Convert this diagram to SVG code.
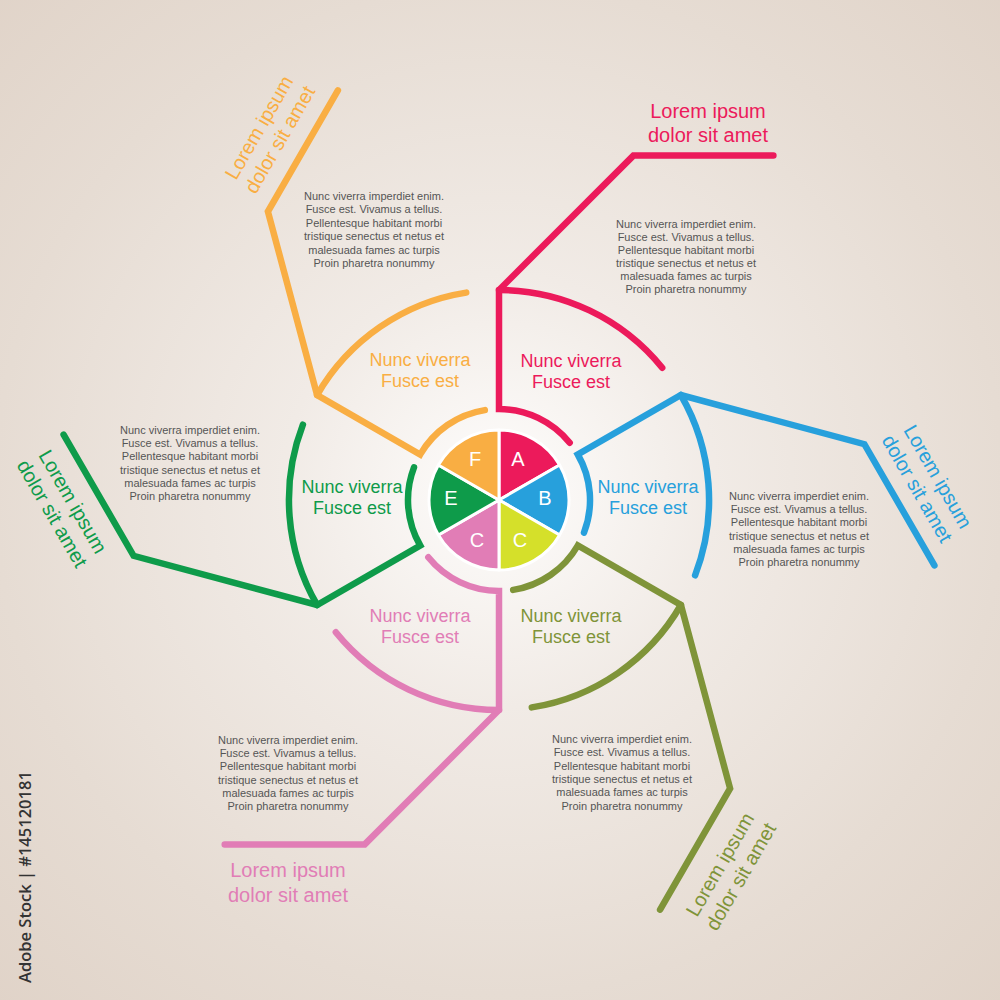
<svg xmlns="http://www.w3.org/2000/svg" width="1000" height="1000" viewBox="0 0 1000 1000">
<defs>
<radialGradient id="bg" gradientUnits="userSpaceOnUse" cx="499" cy="490" r="720">
<stop offset="0" stop-color="#fefdfc"/>
<stop offset="0.3" stop-color="#f1ebe6"/>
<stop offset="0.7" stop-color="#e6dcd3"/>
<stop offset="1" stop-color="#e0d3c8"/>
</radialGradient>
</defs>
<style>
.ln{fill:none;stroke-width:6.5;stroke-linecap:round;stroke-linejoin:miter}
.slice{stroke:#ffffff;stroke-width:3;stroke-linejoin:round}
.let{font-family:"Liberation Sans",Arial,sans-serif;font-size:20px;fill:#ffffff;text-anchor:middle}
.big{font-family:"Liberation Sans",Arial,sans-serif;font-size:20px;text-anchor:middle}
.mid{font-family:"Liberation Sans",Arial,sans-serif;font-size:18px;text-anchor:middle}
.par{font-family:"Liberation Sans",Arial,sans-serif;font-size:11px;fill:#555555;text-anchor:middle}
.red{stroke:#ec1a5b}.tred{fill:#ec1a5b}
.blue{stroke:#27a0dc}.tblue{fill:#27a0dc}
.olive{stroke:#7f9439}.tolive{fill:#7f9439}
.pink{stroke:#e17db6}.tpink{fill:#e17db6}
.green{stroke:#0e9b4a}.tgreen{fill:#0e9b4a}
.orange{stroke:#f9ae43}.torange{fill:#f9ae43}
</style>
<rect x="0" y="0" width="1000" height="1000" fill="url(#bg)"/>

<g id="connectors">
<g id="conn-a">
<path class="ln red" d="M569.7 442.7 A91 91 0 0 0 499 409 L499 290 L633.4 155.6 L773.4 155.6"/>
<path class="ln red" d="M499 290 A210 210 0 0 1 662.2 367.8"/>
</g>
<g id="conn-b">
<path class="ln blue" d="M584 532.6 A91 91 0 0 0 577.8 454.5 L680.9 395 L864.4 444.2 L934.4 565.4"/>
<path class="ln blue" d="M680.9 395 A210 210 0 0 1 695.1 575.3"/>
</g>
<g id="conn-c1">
<path class="ln olive" d="M513.2 589.9 A91 91 0 0 0 577.8 545.5 L680.9 605 L730.1 788.5 L660.1 909.7"/>
<path class="ln olive" d="M680.9 605 A210 210 0 0 1 531.8 707.4"/>
</g>
<g id="conn-c2">
<path class="ln pink" d="M428.3 557.3 A91 91 0 0 0 499 591 L499 710 L364.7 844.4 L224.7 844.4"/>
<path class="ln pink" d="M499 710 A210 210 0 0 1 335.8 632.2"/>
</g>
<g id="conn-e">
<path class="ln green" d="M414 467.4 A91 91 0 0 0 420.2 545.5 L317.1 605 L133.6 555.8 L63.6 434.6"/>
<path class="ln green" d="M317.1 605 A210 210 0 0 1 302.9 424.7"/>
</g>
<g id="conn-f">
<path class="ln orange" d="M484.8 410.1 A91 91 0 0 0 420.2 454.5 L317.1 395 L267.9 211.5 L337.9 90.3"/>
<path class="ln orange" d="M317.1 395 A210 210 0 0 1 466.2 292.6"/>
</g>
</g>

<g id="pie">
<g id="slice-a"><path class="slice" fill="#ec1a5b" d="M499 500 L499 430 A70 70 0 0 1 559.62 465 Z"/><text class="let" x="518" y="466">A</text></g>
<g id="slice-b"><path class="slice" fill="#27a0dc" d="M499 500 L559.62 465 A70 70 0 0 1 559.62 535 Z"/><text class="let" x="545" y="505">B</text></g>
<g id="slice-c1"><path class="slice" fill="#d5e02a" d="M499 500 L559.62 535 A70 70 0 0 1 499 570 Z"/><text class="let" x="520" y="547">C</text></g>
<g id="slice-c2"><path class="slice" fill="#e17db6" d="M499 500 L499 570 A70 70 0 0 1 438.38 535 Z"/><text class="let" x="477" y="547">C</text></g>
<g id="slice-e"><path class="slice" fill="#0e9b4a" d="M499 500 L438.38 535 A70 70 0 0 1 438.38 465 Z"/><text class="let" x="451" y="505">E</text></g>
<g id="slice-f"><path class="slice" fill="#f9ae43" d="M499 500 L438.38 465 A70 70 0 0 1 499 430 Z"/><text class="let" x="475" y="466">F</text></g>
</g>

<g id="arm-a">
<text class="big tred" x="708" y="118"><tspan x="708">Lorem ipsum</tspan><tspan x="708" dy="24">dolor sit amet</tspan></text>
<text class="mid tred" x="571" y="367"><tspan x="571">Nunc viverra</tspan><tspan x="571" dy="21">Fusce est</tspan></text>
<text class="par" y="228"><tspan x="686">Nunc viverra imperdiet enim.</tspan><tspan x="686" dy="13">Fusce est. Vivamus a tellus.</tspan><tspan x="686" dy="13">Pellentesque habitant morbi</tspan><tspan x="686" dy="13">tristique senectus et netus et</tspan><tspan x="686" dy="13">malesuada fames ac turpis</tspan><tspan x="686" dy="13">Proin pharetra nonummy</tspan></text>
</g>

<g id="arm-b">
<text class="big tblue" transform="translate(932,480) rotate(60)"><tspan x="0" y="0">Lorem ipsum</tspan><tspan x="0" y="24">dolor sit amet</tspan></text>
<text class="mid tblue" y="493"><tspan x="648">Nunc viverra</tspan><tspan x="648" dy="21">Fusce est</tspan></text>
<text class="par" y="500"><tspan x="799">Nunc viverra imperdiet enim.</tspan><tspan x="799" dy="13.2">Fusce est. Vivamus a tellus.</tspan><tspan x="799" dy="13.2">Pellentesque habitant morbi</tspan><tspan x="799" dy="13.2">tristique senectus et netus et</tspan><tspan x="799" dy="13.2">malesuada fames ac turpis</tspan><tspan x="799" dy="13.2">Proin pharetra nonummy</tspan></text>
</g>

<g id="arm-c1">
<text class="big tolive" transform="translate(726,868) rotate(-60)"><tspan x="0" y="0">Lorem ipsum</tspan><tspan x="0" y="24">dolor sit amet</tspan></text>
<text class="mid tolive" y="622"><tspan x="571">Nunc viverra</tspan><tspan x="571" dy="21">Fusce est</tspan></text>
<text class="par" y="743"><tspan x="622">Nunc viverra imperdiet enim.</tspan><tspan x="622" dy="13.3">Fusce est. Vivamus a tellus.</tspan><tspan x="622" dy="13.3">Pellentesque habitant morbi</tspan><tspan x="622" dy="13.3">tristique senectus et netus et</tspan><tspan x="622" dy="13.3">malesuada fames ac turpis</tspan><tspan x="622" dy="13.3">Proin pharetra nonummy</tspan></text>
</g>

<g id="arm-c2">
<text class="big tpink" y="877"><tspan x="288">Lorem ipsum</tspan><tspan x="288" dy="25">dolor sit amet</tspan></text>
<text class="mid tpink" y="622"><tspan x="420">Nunc viverra</tspan><tspan x="420" dy="21">Fusce est</tspan></text>
<text class="par" y="744"><tspan x="288">Nunc viverra imperdiet enim.</tspan><tspan x="288" dy="13.2">Fusce est. Vivamus a tellus.</tspan><tspan x="288" dy="13.2">Pellentesque habitant morbi</tspan><tspan x="288" dy="13.2">tristique senectus et netus et</tspan><tspan x="288" dy="13.2">malesuada fames ac turpis</tspan><tspan x="288" dy="13.2">Proin pharetra nonummy</tspan></text>
</g>

<g id="arm-e">
<text class="big tgreen" transform="translate(67,505) rotate(60)"><tspan x="0" y="0">Lorem ipsum</tspan><tspan x="0" y="24">dolor sit amet</tspan></text>
<text class="mid tgreen" y="493"><tspan x="352">Nunc viverra</tspan><tspan x="352" dy="21">Fusce est</tspan></text>
<text class="par" y="434"><tspan x="190">Nunc viverra imperdiet enim.</tspan><tspan x="190" dy="13.2">Fusce est. Vivamus a tellus.</tspan><tspan x="190" dy="13.2">Pellentesque habitant morbi</tspan><tspan x="190" dy="13.2">tristique senectus et netus et</tspan><tspan x="190" dy="13.2">malesuada fames ac turpis</tspan><tspan x="190" dy="13.2">Proin pharetra nonummy</tspan></text>
</g>

<g id="arm-f">
<text class="big torange" transform="translate(265,131) rotate(-60)"><tspan x="0" y="0">Lorem ipsum</tspan><tspan x="0" y="24">dolor sit amet</tspan></text>
<text class="mid torange" y="366"><tspan x="420">Nunc viverra</tspan><tspan x="420" dy="21">Fusce est</tspan></text>
<text class="par" y="200"><tspan x="374">Nunc viverra imperdiet enim.</tspan><tspan x="374" dy="13.4">Fusce est. Vivamus a tellus.</tspan><tspan x="374" dy="13.4">Pellentesque habitant morbi</tspan><tspan x="374" dy="13.4">tristique senectus et netus et</tspan><tspan x="374" dy="13.4">malesuada fames ac turpis</tspan><tspan x="374" dy="13.4">Proin pharetra nonummy</tspan></text>
</g>

<text transform="translate(31,983) rotate(-90)" font-family="'Open Sans','DejaVu Sans',sans-serif" font-size="16.5" font-weight="600" fill="#333333">Adobe Stock | #145120181</text>
</svg>
